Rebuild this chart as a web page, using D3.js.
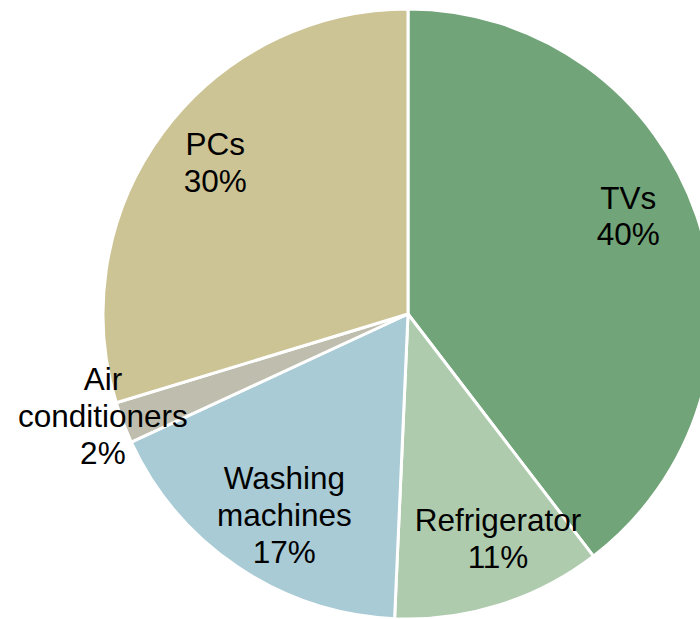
<!DOCTYPE html>
<html>
  <head>
    <meta charset="utf-8">
    <title>Pie</title>
    <script src="https://d3js.org/d3.v7.min.js"></script>
    <style>
    body { margin: 0; background: #fff; }
    .label { font-family: "Liberation Sans", Arial, sans-serif; font-size: 31.5px; fill: #000; }
    </style>
  </head>
  <body>
    <script>
      // data read from the picture (slice sizes measured from the angles,
      // labels show the rounded share)
      const categories = ["TVs", "Refrigerator", "Washing machines", "Air conditioners", "PCs"];
      const shares = [39.6, 11.1, 17.4, 2.2, 29.7];
      const labelLines = [["TVs"], ["Refrigerator"], ["Washing", "machines"], ["Air", "conditioners"], ["PCs"]];
      const colors = ["#71a478", "#afcbae", "#a8cbd6", "#bebdae", "#cdc495"];

      const width = 700;
      const height = 619;
      const cx = 408;
      const cy = 314;
      const radius = 305;

      const svg = d3.select("body")
        .append("svg")
          .attr("width", width)
          .attr("height", height);

      const g = svg.append("g")
          .attr("transform", "translate(" + cx + "," + cy + ")");

      const pie = d3.pie()
          .sort(null)
          .value(function(d) { return d; });

      const arcs = pie(shares);

      const arc = d3.arc()
          .innerRadius(0)
          .outerRadius(radius);

      g.selectAll("path.slice")
        .data(arcs)
        .enter()
        .append("path")
          .attr("class", "slice")
          .attr("d", arc)
          .attr("fill", function(d, i) { return colors[i]; })
          .attr("stroke", "#fff")
          .attr("stroke-width", 3)
          .attr("stroke-linejoin", "round");

      // labels sit inside the slice, tiny slices go outside
      const inner = d3.arc().innerRadius(240).outerRadius(240);
      const outer = d3.arc().innerRadius(318).outerRadius(318);
      const lineH = 37;
      // small "best fit" nudges, like the spreadsheet did
      const nudge = {
        "TVs": [-7, -21],
        "Refrigerator": [18, -4],
        "Washing machines": [10, 2],
        "Air conditioners": [-8, -11],
        "PCs": [0, -9]
      };

      const labels = g.selectAll("text.label")
        .data(arcs)
        .enter()
        .append("text")
          .attr("class", "label")
          .attr("text-anchor", "middle")
          .attr("transform", function(d, i) {
            const p = (d.endAngle - d.startAngle) < 0.2 ? outer.centroid(d) : inner.centroid(d);
            const n = nudge[categories[i]];
            return "translate(" + (p[0] + n[0]) + "," + (p[1] + n[1]) + ")";
          });

      labels.each(function(d, i) {
        const lines = labelLines[i].concat([Math.round(shares[i]) + "%"]);
        const t = d3.select(this);
        const top = -(lines.length - 1) * lineH / 2;
        lines.forEach(function(s, k) {
          t.append("tspan")
            .attr("x", 0)
            .attr("y", top + k * lineH)
            .attr("dy", "0.35em")
            .text(s);
        });
      });
    </script>
  </body>
</html>
